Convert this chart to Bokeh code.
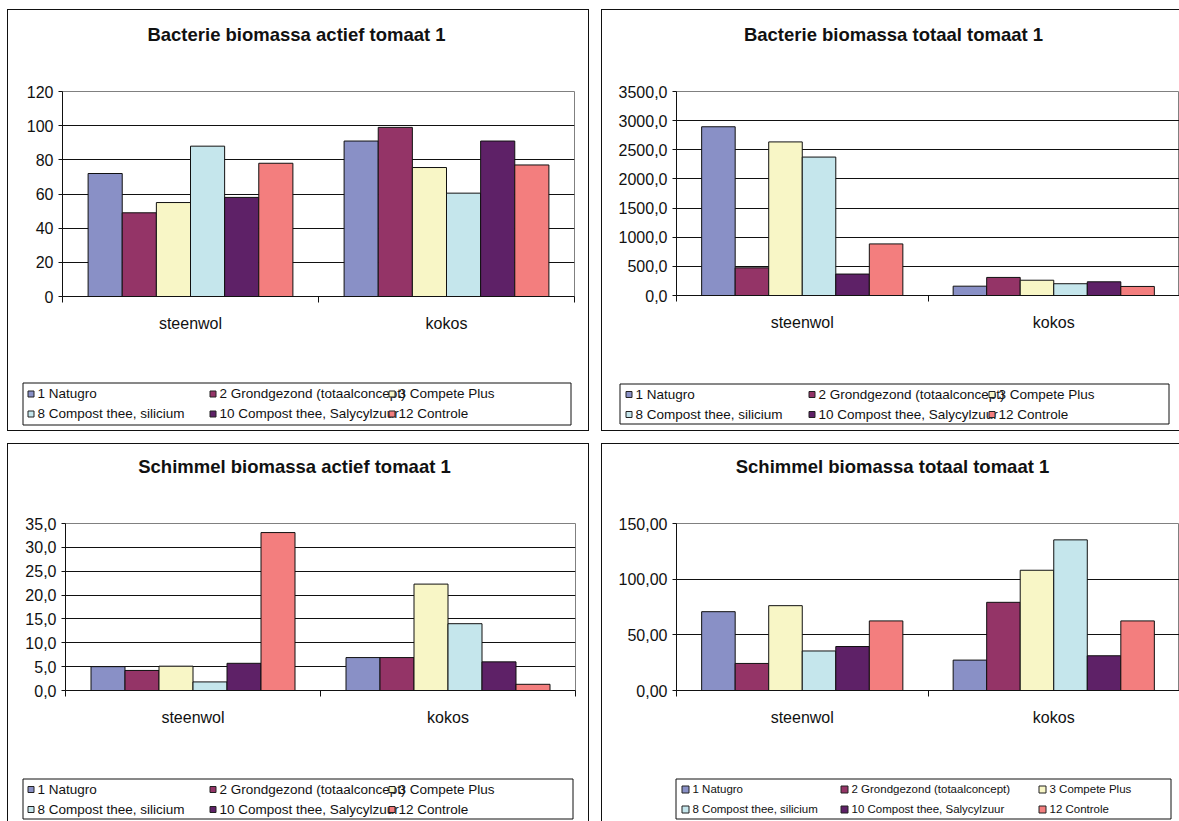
from bokeh.plotting import figure
from bokeh.models import Range1d, FixedTicker, ColumnDataSource, Spacer
from bokeh.transform import dodge
from bokeh.core.properties import value
from bokeh.layouts import row, column
from bokeh.embed import file_html
from bokeh.resources import INLINE

# ---------------- data ----------------
categories = ["steenwol", "kokos"]
series = ["1 Natugro", "2 Grondgezond (totaalconcept)", "3 Compete Plus",
          "8 Compost thee, silicium", "10 Compost thee, Salycylzuur", "12 Controle"]
colors = ["#8990C6", "#943467", "#F8F6C6", "#C5E6EC", "#5E2167", "#F37E7E"]

titles = ["Bacterie biomassa actief tomaat 1", "Bacterie biomassa totaal tomaat 1",
          "Schimmel biomassa actief tomaat 1", "Schimmel biomassa totaal tomaat 1"]

# values per series: steenwol, kokos
bact_actief_steenwol = [72, 49, 55, 88, 58, 78]
bact_actief_kokos = [91, 99, 75.5, 60.5, 91, 77]
bact_totaal_steenwol = [2895, 475, 2635, 2375, 368, 885]
bact_totaal_kokos = [160, 310, 262, 202, 235, 155]
schim_actief_steenwol = [5.0, 4.2, 5.1, 1.8, 5.7, 33.1]
schim_actief_kokos = [6.9, 6.9, 22.3, 14.0, 6.0, 1.3]
schim_totaal_steenwol = [70.8, 24.3, 76.2, 35.5, 39.5, 62.5]
schim_totaal_kokos = [27.3, 79.2, 108.0, 135.3, 31.2, 62.5]

bact_actief_ticks = [0, 20, 40, 60, 80, 100, 120]
bact_actief_labels = ["0", "20", "40", "60", "80", "100", "120"]
bact_totaal_ticks = [0, 500, 1000, 1500, 2000, 2500, 3000, 3500]
bact_totaal_labels = ["0,0", "500,0", "1000,0", "1500,0", "2000,0", "2500,0", "3000,0", "3500,0"]
schim_actief_ticks = [0, 5, 10, 15, 20, 25, 30, 35]
schim_actief_labels = ["0,0", "5,0", "10,0", "15,0", "20,0", "25,0", "30,0", "35,0"]
schim_totaal_ticks = [0, 50, 100, 150]
schim_totaal_labels = ["0,00", "50,00", "100,00", "150,00"]

FONT = "Liberation Sans"
INK = "#111111"


def plain_fig(W, H):
    p = figure(width=W, height=H, x_range=Range1d(0, W), y_range=Range1d(H, 0),
               x_axis_type=None, y_axis_type=None, min_border=0, title=None,
               toolbar_location=None, output_backend="svg", frame_align=False)
    p.outline_line_color = None
    p.background_fill_color = "white"
    p.border_fill_color = "white"
    return p


def title_fig(W, H, text, tx, ty):
    p = plain_fig(W, H)
    p.text(x=[tx], y=[ty], text=[text], text_font=value(FONT), text_font_size=value("18.5px"),
           text_font_style=value("bold"), text_color=INK, text_align=value("center"),
           text_baseline=value("alphabetic"))
    return p


def chart_fig(W, H, steen, kokos, ticks, tick_labels, fl, fr, ft, fb):
    p = figure(width=W, height=H, output_backend="svg", toolbar_location=None, title=None,
               x_range=Range1d(0, len(categories)), y_range=Range1d(ticks[0], ticks[-1]),
               min_border_left=fl, min_border_right=fr, min_border_top=ft, min_border_bottom=fb,
               frame_align=False)
    p.background_fill_color = "white"
    p.border_fill_color = "white"
    p.outline_line_color = "#808080"
    p.outline_line_width = 1

    data = {"x": [i + 0.5 for i in range(len(categories))]}
    for i in range(len(series)):
        data[f"s{i}"] = [steen[i], kokos[i]]
    src = ColumnDataSource(data)
    bw = 1.0 / (len(series) + 1.5)
    for i, c in enumerate(colors):
        off = (i - (len(series) - 1) / 2) * bw
        p.vbar(x=dodge("x", off), top=f"s{i}", width=bw, bottom=0, source=src,
               fill_color=c, line_color=INK, line_width=1)

    xa = p.xaxis[0]
    xa.ticker = FixedTicker(ticks=[i + 0.5 for i in range(len(categories))],
                            minor_ticks=list(range(len(categories) + 1)))
    xa.major_label_overrides = {i + 0.5: c for i, c in enumerate(categories)}
    xa.major_tick_line_color = None
    xa.major_tick_out = 0
    xa.major_tick_in = 0
    xa.minor_tick_out = 6
    xa.minor_tick_in = 0
    xa.minor_tick_line_color = INK
    xa.axis_line_color = INK
    xa.major_label_text_font = FONT
    xa.major_label_text_font_size = "16px"
    xa.major_label_text_color = INK
    xa.major_label_standoff = 12

    ya = p.yaxis[0]
    ya.ticker = FixedTicker(ticks=ticks)
    ya.major_label_overrides = dict(zip(ticks, tick_labels))
    ya.major_tick_out = 4
    ya.major_tick_in = 0
    ya.minor_tick_line_color = None
    ya.major_tick_line_color = INK
    ya.axis_line_color = INK
    ya.major_label_text_font = FONT
    ya.major_label_text_font_size = "16px"
    ya.major_label_text_color = INK
    ya.major_label_standoff = 5

    p.xgrid.grid_line_color = None
    p.ygrid.ticker = FixedTicker(ticks=ticks[1:-1])
    p.ygrid.grid_line_color = INK
    p.ygrid.grid_line_width = 1
    return p


def legend_fig(W, H, box, rows_y, marker_x, text_x, font_size, ms):
    p = plain_fig(W, H)
    l, t, r, b = box
    p.quad(left=[l + 0.5], right=[r + 0.5], top=[t + 0.5], bottom=[b + 0.5],
           fill_color="white", line_color=INK, line_width=1)
    xs, ys, mxs = [], [], []
    for i in range(len(series)):
        rr, cc = divmod(i, 3)
        xs.append(text_x[cc])
        ys.append(rows_y[rr])
        mxs.append(marker_x[cc])
    src = ColumnDataSource(dict(x=xs, y=ys, mx=mxs, name=series, color=colors))
    p.text(x="x", y="y", text="name", source=src, text_font=value(FONT),
           text_font_size=value(font_size), text_color=INK, text_align=value("left"),
           text_baseline=value("middle"))
    p.rect(x=dodge("mx", ms / 2 + 0.5), y=dodge("y", 0.5), width=ms, height=ms, source=src,
           fill_color="color", line_color="#222222", line_width=1)
    return p


SHADOW = {"box-shadow": "0 0 0 1px #111111", "background-color": "white"}

# panel 1 (580 x 420)
p1 = column(
    title_fig(580, 50, titles[0], 288, 24),
    chart_fig(580, 312, bact_actief_steenwol, bact_actief_kokos, bact_actief_ticks,
              bact_actief_labels, 54, 14, 31, 76),
    legend_fig(580, 58, (14, 10, 562, 52), (21, 41), (19, 201, 380), (29, 211, 390), "13.5px", 6),
    styles=SHADOW)
# panel 2 (577 x 420)
p2 = column(
    title_fig(577, 50, titles[1], 291, 24),
    chart_fig(577, 312, bact_totaal_steenwol, bact_totaal_kokos, bact_totaal_ticks,
              bact_totaal_labels, 74, 0, 31, 77),
    legend_fig(577, 58, (17, 11, 566, 51), (21.5, 41.5), (23, 206, 386), (33, 216, 396), "13.5px", 6),
    styles=SHADOW)
# panel 3 (580 x 377)
p3 = column(
    title_fig(580, 50, titles[2], 286, 22),
    chart_fig(580, 274, schim_actief_steenwol, schim_actief_kokos, schim_actief_ticks,
              schim_actief_labels, 57, 13, 29, 78),
    legend_fig(580, 53, (14, 10, 564, 50), (20.5, 40.5), (19, 201, 380), (29, 211, 390), "13.5px", 6),
    styles=SHADOW)
# panel 4 (577 x 377)
p4 = column(
    title_fig(577, 50, titles[3], 290, 22),
    chart_fig(577, 274, schim_totaal_steenwol, schim_totaal_kokos, schim_totaal_ticks,
              schim_totaal_labels, 74, 0, 29, 78),
    legend_fig(577, 53, (73, 10, 568, 50), (20.5, 40.5), (79, 238, 436), (90, 249, 447), "11.5px", 7),
    styles=SHADOW)

layout = column(
    Spacer(width=1179, height=10),
    row(Spacer(width=8, height=420), p1, Spacer(width=14, height=420), p2),
    Spacer(width=1179, height=14),
    row(Spacer(width=8, height=377), p3, Spacer(width=14, height=377), p4),
)
open("out.html", "w").write(file_html(layout, INLINE))
